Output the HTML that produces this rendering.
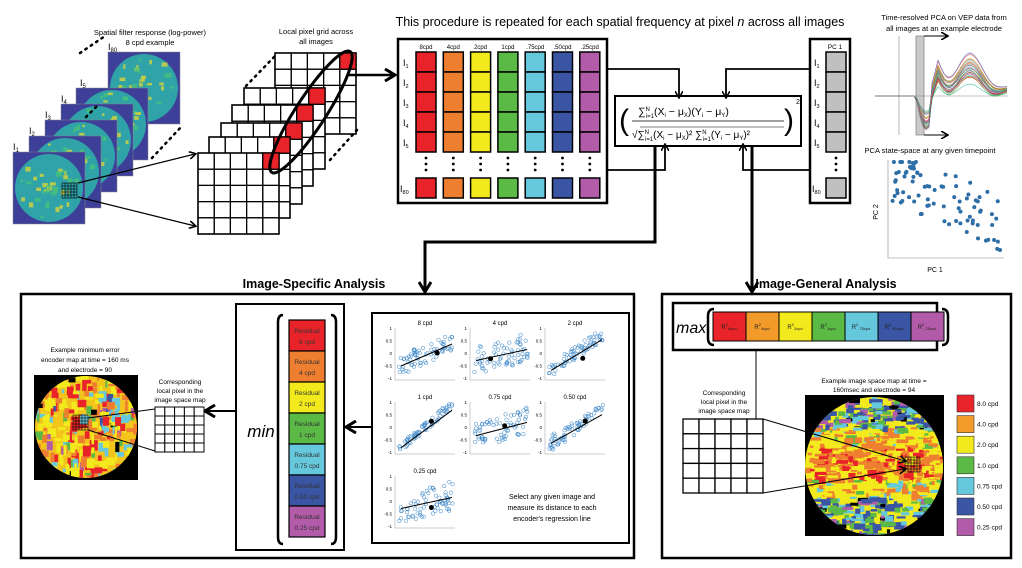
<!DOCTYPE html>
<html><head><meta charset="utf-8"><style>
html,body{margin:0;padding:0;background:#fff;width:1022px;height:568px;overflow:hidden}
svg text{font-family:"Liberation Sans",sans-serif}
</style></head><body>
<svg id="s" width="1022" height="568" viewBox="0 0 1022 568" xmlns="http://www.w3.org/2000/svg">
<defs>
<marker id="ah" markerWidth="8" markerHeight="8" refX="6" refY="4" orient="auto" markerUnits="userSpaceOnUse"><path d="M0,0 L7,4 L0,8" fill="none" stroke="#000" stroke-width="1.6"/></marker>
<marker id="ahb" markerWidth="14" markerHeight="14" refX="10" refY="7" orient="auto" markerUnits="userSpaceOnUse"><path d="M1,1 L11,7 L1,13" fill="none" stroke="#000" stroke-width="3"/></marker>
</defs>

<text x="620" y="26" font-size="12.5" text-anchor="middle">This procedure is repeated for each spatial frequency at pixel <tspan font-style="italic">n</tspan> across all images</text>

<text x="150" y="35" font-size="7.5" text-anchor="middle">Spatial filter response (log-power)</text>
<text x="150" y="45" font-size="7.5" text-anchor="middle">8 cpd example</text>
<g id="stack"></g>
<g font-family="Liberation Serif" font-size="9">
<text x="108" y="50" font-family="Liberation Serif">I<tspan font-size="6" dy="2">80</tspan></text>
<text x="80" y="86" font-family="Liberation Serif">I<tspan font-size="6" dy="2">5</tspan></text>
<text x="61" y="102" font-family="Liberation Serif">I<tspan font-size="6" dy="2">4</tspan></text>
<text x="45" y="118" font-family="Liberation Serif">I<tspan font-size="6" dy="2">3</tspan></text>
<text x="29" y="134" font-family="Liberation Serif">I<tspan font-size="6" dy="2">2</tspan></text>
<text x="13" y="150" font-family="Liberation Serif">I<tspan font-size="6" dy="2">1</tspan></text>
</g>
<path d="M86,117 L99,104 M80,53 L105,36 M152,158 L182,126" stroke="#000" stroke-width="2.5" stroke-dasharray="1.5 5" stroke-linecap="round" fill="none"/>
<line x1="78" y1="183" x2="195" y2="154" stroke="#000" stroke-width="1.2" marker-end="url(#ah)"/>
<line x1="78" y1="197" x2="195" y2="226" stroke="#000" stroke-width="1.2" marker-end="url(#ah)"/>

<text x="316" y="34" font-size="7.5" text-anchor="middle">Local pixel grid across</text>
<text x="316" y="44" font-size="7.5" text-anchor="middle">all images</text>
<g id="grids"></g>
<path d="M246,86 L275,56 M330,160 L357,130" stroke="#000" stroke-width="2.5" stroke-dasharray="1.5 5" stroke-linecap="round" fill="none"/>
<ellipse cx="311" cy="112" rx="72" ry="15" transform="rotate(-57 311 112)" fill="none" stroke="#000" stroke-width="3"/>
<line x1="349" y1="75" x2="394" y2="75" stroke="#000" stroke-width="2.5" marker-end="url(#ahb)"/>

<rect x="398" y="39" width="209" height="164" fill="#fff" stroke="#000" stroke-width="2.5"/>
<g id="matrix"></g>

<rect x="810" y="39" width="40" height="164" fill="#fff" stroke="#000" stroke-width="2.5"/>
<text x="835" y="49" font-size="6.5" text-anchor="middle">PC 1</text>
<g id="pc"></g>

<rect x="615" y="96" width="186" height="50" fill="#fff" stroke="#000" stroke-width="2"/>
<g font-family="Liberation Serif" font-size="10.5">
<text x="638" y="115" font-family="Liberation Serif">∑<tspan font-size="6" dy="-4">N</tspan><tspan font-size="6" dx="-4" dy="7">i=1</tspan><tspan dy="-3">(X</tspan><tspan font-size="6" dy="2">i</tspan><tspan dy="-2"> − μ</tspan><tspan font-size="6" dy="2">X</tspan><tspan dy="-2">)(Y</tspan><tspan font-size="6" dy="2">i</tspan><tspan dy="-2"> − μ</tspan><tspan font-size="6" dy="2">Y</tspan><tspan dy="-2">)</tspan></text>
<text x="632" y="138" font-family="Liberation Serif" font-size="10">√<tspan>∑</tspan><tspan font-size="6" dy="-4">N</tspan><tspan font-size="6" dx="-4" dy="7">i=1</tspan><tspan dy="-3">(X</tspan><tspan font-size="6" dy="2">i</tspan><tspan dy="-2"> − μ</tspan><tspan font-size="6" dy="2">X</tspan><tspan dy="-2">)² ∑</tspan><tspan font-size="6" dy="-4">N</tspan><tspan font-size="6" dx="-4" dy="7">i=1</tspan><tspan dy="-3">(Y</tspan><tspan font-size="6" dy="2">i</tspan><tspan dy="-2"> − μ</tspan><tspan font-size="6" dy="2">Y</tspan><tspan dy="-2">)²</tspan></text>
<text x="619" y="130" font-size="30" font-family="Liberation Serif">(</text>
<text x="784" y="130" font-size="30" font-family="Liberation Serif">)</text>
<text x="796" y="104" font-size="7" font-family="Liberation Serif">2</text>
</g>
<line x1="632" y1="121" x2="784" y2="121" stroke="#000" stroke-width="0.8"/>
<line x1="640" y1="127" x2="784" y2="127" stroke="#000" stroke-width="0.6"/>

<polyline points="607,69 679,69 679,97" fill="none" stroke="#000" stroke-width="1.8" marker-end="url(#ah)"/>
<polyline points="810,69 726,69 726,97" fill="none" stroke="#000" stroke-width="1.8" marker-end="url(#ah)"/>
<polyline points="607,170 665,170 665,145" fill="none" stroke="#000" stroke-width="1.8" marker-end="url(#ah)"/>
<polyline points="810,170 743,170 743,145" fill="none" stroke="#000" stroke-width="1.8" marker-end="url(#ah)"/>
<polyline points="655,146 655,242 425,242 425,291" fill="none" stroke="#000" stroke-width="3" marker-end="url(#ahb)"/>
<polyline points="752,146 752,291" fill="none" stroke="#000" stroke-width="3" marker-end="url(#ahb)"/>

<text x="944" y="20" font-size="7.5" text-anchor="middle">Time-resolved PCA on VEP data from</text>
<text x="944" y="31" font-size="7.5" text-anchor="middle">all images at an example electrode</text>
<g id="vep"></g>
<text x="930" y="153" font-size="7.5" text-anchor="middle">PCA state-space at any given timepoint</text>
<g id="pcs"></g>
<text x="935" y="272" font-size="7" text-anchor="middle">PC 1</text>
<text x="878" y="212" font-size="7" text-anchor="middle" transform="rotate(-90 878 212)">PC 2</text>

<text x="314" y="288" font-size="12.5" font-weight="bold" text-anchor="middle">Image-Specific Analysis</text>
<text x="826" y="288" font-size="12.5" font-weight="bold" text-anchor="middle">Image-General Analysis</text>

<rect x="21" y="294" width="613" height="264" fill="#fff" stroke="#000" stroke-width="2.5"/>
<rect x="236" y="304" width="108" height="246" fill="#fff" stroke="#000" stroke-width="2"/>
<text x="261" y="437" font-size="17" font-style="italic" text-anchor="middle">min</text>
<path d="M283,315 Q278,315 278,322 L278,537 Q278,544 283,544" fill="none" stroke="#000" stroke-width="2.5"/>
<path d="M331,315 Q336,315 336,322 L336,537 Q336,544 331,544" fill="none" stroke="#000" stroke-width="2.5"/>
<g id="resid"></g>
<rect x="372" y="313" width="257" height="230" fill="#fff" stroke="#000" stroke-width="2"/>
<g id="scat"></g>
<text x="552" y="499" font-size="7" text-anchor="middle">Select any given image and</text>
<text x="552" y="510" font-size="7" text-anchor="middle">measure its distance to each</text>
<text x="552" y="521" font-size="7" text-anchor="middle">encoder's regression line</text>
<line x1="372" y1="427" x2="347" y2="427" stroke="#000" stroke-width="2" marker-end="url(#ahb)"/>
<line x1="236" y1="411" x2="206" y2="411" stroke="#000" stroke-width="2" marker-end="url(#ahb)"/>
<text x="180" y="384" font-size="6.5" text-anchor="middle">Corresponding</text>
<text x="180" y="393" font-size="6.5" text-anchor="middle">local pixel in the</text>
<text x="180" y="402" font-size="6.5" text-anchor="middle">image space map</text>
<g id="sgrid"></g>
<text x="85" y="352" font-size="6.5" text-anchor="middle">Example minimum error</text>
<text x="85" y="362" font-size="6.5" text-anchor="middle">encoder map at time = 160 ms</text>
<text x="85" y="372" font-size="6.5" text-anchor="middle">and electrode = 90</text>
<rect x="34" y="375" width="104" height="105" fill="#000"/>
<g id="mapL"></g>
<line x1="155" y1="409" x2="88" y2="418" stroke="#000" stroke-width="1"/>
<line x1="155" y1="451" x2="88" y2="430" stroke="#000" stroke-width="1"/>

<rect x="662" y="294" width="349" height="264" fill="#fff" stroke="#000" stroke-width="2.5"/>
<rect x="673" y="303" width="264" height="47" fill="#fff" stroke="#000" stroke-width="2.5"/>
<text x="676" y="333" font-size="16" font-style="italic">max</text>
<path d="M714,309 Q708,309 708,316 L708,338 Q708,345 714,345" fill="none" stroke="#000" stroke-width="2.5"/>
<path d="M942,309 Q948,309 948,316 L948,338 Q948,345 942,345" fill="none" stroke="#000" stroke-width="2.5"/>
<g id="maxc"></g>
<line x1="756" y1="350" x2="756" y2="430" stroke="#000" stroke-width="1" marker-end="url(#ah)"/>
<text x="724" y="395" font-size="6.5" text-anchor="middle">Corresponding</text>
<text x="724" y="404" font-size="6.5" text-anchor="middle">local pixel in the</text>
<text x="724" y="413" font-size="6.5" text-anchor="middle">image space map</text>
<g id="rgrid"></g>
<text x="874" y="383" font-size="6.5" text-anchor="middle">Example image space map at time =</text>
<text x="874" y="392" font-size="6.5" text-anchor="middle">160msec and electrode = 94</text>
<rect x="805" y="395" width="139" height="141" fill="#000"/>
<g id="mapR"></g>
<line x1="763" y1="419" x2="905" y2="461" stroke="#000" stroke-width="1" marker-end="url(#ah)"/>
<line x1="763" y1="493" x2="905" y2="469" stroke="#000" stroke-width="1" marker-end="url(#ah)"/>
<g id="legend"></g>
</svg>
<script>
const NS="http://www.w3.org/2000/svg";
function el(p,t,a){const e=document.createElementNS(NS,t);for(const k in a)e.setAttribute(k,a[k]);p.appendChild(e);return e;}
const G=id=>document.getElementById(id);
let seed=7;function R(){seed=(seed*16807)%2147483647;return seed/2147483647;}
const COLS=["#e8242a","#ef7f30","#f2ea1c","#5bb946","#66c8dc","#3a55a4","#b25ba8"];
const st=G("stack");
const pos=[[108,52],[76,88],[61,104],[45,120],[29,136],[13,152]];
pos.forEach((p,i)=>{const w=72;el(st,"rect",{x:p[0],y:p[1],width:w,height:w,fill:"#3d3f99",stroke:"#888","stroke-width":0.5});
 el(st,"circle",{cx:p[0]+w/2,cy:p[1]+w/2,r:w/2-2,fill:"#2fa3a8"});
 for(let k=0;k<40;k++){const a=R()*6.28,r=R()*(w/2-5);el(st,"rect",{x:p[0]+w/2+Math.cos(a)*r-2,y:p[1]+w/2+Math.sin(a)*r-2,width:2+R()*4,height:2+R()*3,fill:R()<0.5?"#d8d23a":"#47c07a",opacity:0.8});}
});
const gI=el(st,"g",{});
for(let i=0;i<=5;i++){el(gI,"line",{x1:62+i*3,y1:183,x2:62+i*3,y2:198,stroke:"#000","stroke-width":0.6});el(gI,"line",{x1:62,y1:183+i*3,x2:77,y2:183+i*3,stroke:"#000","stroke-width":0.6});}
const gr=G("grids");
const gp=[[275,53],[244,88],[232,105],[221,123],[209,137],[198,153]];
gp.forEach((p,i)=>{const c=16.2;el(gr,"rect",{x:p[0],y:p[1],width:c*5,height:c*5,fill:"#fff",stroke:"#000","stroke-width":1.5});
 for(let r=0;r<5;r++)for(let q=0;q<5;q++)el(gr,"rect",{x:p[0]+q*c,y:p[1]+r*c,width:c,height:c,fill:"none",stroke:"#000","stroke-width":1.2});
 el(gr,"rect",{x:p[0]+4*c,y:p[1],width:c,height:c,fill:"#e8242a",stroke:"#000","stroke-width":1.2});
});
const m=G("matrix");const lab=["8cpd","4cpd","2cpd","1cpd",".75cpd",".50cpd",".25cpd"];
for(let c=0;c<7;c++){const x=416+c*27.3;el(m,"text",{x:x+10,y:49,"font-size":6,"text-anchor":"middle"}).textContent=lab[c];
 for(let r=0;r<5;r++)el(m,"rect",{x:x,y:52+r*20,width:20,height:20,fill:COLS[c],stroke:"#000","stroke-width":1.5});
 for(let d=0;d<3;d++)el(m,"circle",{cx:x+10,cy:158+d*6,r:1.4,fill:"#000"});
 el(m,"rect",{x:x,y:178,width:20,height:20,fill:COLS[c],stroke:"#000","stroke-width":1.5});}
["1","2","3","4","5"].forEach((s,r)=>{const t=el(m,"text",{x:403,y:66+r*20,"font-size":9,"font-family":"Liberation Serif"});t.innerHTML='I<tspan font-size="5.5" dy="2">'+s+'</tspan>';});
{const t=el(m,"text",{x:400,y:192,"font-size":9,"font-family":"Liberation Serif"});t.innerHTML='I<tspan font-size="5.5" dy="2">80</tspan>';}
const pc=G("pc");
for(let r=0;r<5;r++){el(pc,"rect",{x:826,y:52+r*20,width:20,height:20,fill:"#c0c0c0",stroke:"#000","stroke-width":1.5});const t=el(pc,"text",{x:814,y:66+r*20,"font-size":9,"font-family":"Liberation Serif"});t.innerHTML='I<tspan font-size="5.5" dy="2">'+(r+1)+'</tspan>';}
for(let d=0;d<3;d++)el(pc,"circle",{cx:836,cy:158+d*6,r:1.4,fill:"#000"});
el(pc,"rect",{x:826,y:178,width:20,height:20,fill:"#c0c0c0",stroke:"#000","stroke-width":1.5});
{const t=el(pc,"text",{x:812,y:192,"font-size":9,"font-family":"Liberation Serif"});t.innerHTML='I<tspan font-size="5.5" dy="2">80</tspan>';}
const v=G("vep");
el(v,"line",{x1:899,y1:36,x2:899,y2:135,stroke:"#888","stroke-width":0.6});
el(v,"line",{x1:875,y1:96,x2:1008,y2:96,stroke:"#888","stroke-width":0.6});
const vc=["#e41a1c","#377eb8","#4daf4a","#984ea3","#ff7f00","#a6d854","#1b9e77","#d95f02","#7570b3","#66a61e","#e7298a","#17becf"];
for(let k=0;k<40;k++){let d="";const a=0.6+R()*0.8,o=R()*14-7;for(let x=875;x<=1008;x+=3){let y=96;const t=x-916;if(t>0){y=96-a*(Math.sin(t/7)*(t<22?-30:20)*Math.exp(-t/60))-(t>15?a*(20+o)*Math.exp(-Math.pow((t-18)/30,2))+a*(14+o)*Math.exp(-Math.pow((t-62)/25,2)):0);}d+=(d?"L":"M")+x+","+y.toFixed(1);}el(v,"path",{d:d,fill:"none",stroke:vc[k%12],"stroke-width":0.5,opacity:0.8});}
el(v,"rect",{x:916,y:36,width:8,height:99,fill:"#888",opacity:0.45,stroke:"#000","stroke-width":0.8});
el(v,"line",{x1:924,y1:36,x2:947,y2:36,stroke:"#000","stroke-width":1,"marker-end":"url(#ah)"});
el(v,"line",{x1:924,y1:135,x2:947,y2:135,stroke:"#000","stroke-width":1,"marker-end":"url(#ah)"});
const ps=G("pcs");
el(ps,"polyline",{points:"888,160 888,258 1004,258",fill:"none",stroke:"#888","stroke-width":0.6});
for(let k=0;k<85;k++){const x=892+R()*108;const y=175+(x-892)*0.45+ (R()-0.5)*55;el(ps,"circle",{cx:x,cy:Math.min(250,Math.max(162,y)),r:2,fill:"#2e6ea6"});}
const rs=G("resid");const rl=["8 cpd","4 cpd","2 cpd","1 cpd","0.75 cpd","0.50 cpd","0.25 cpd"];
for(let i=0;i<7;i++){const y=320+i*31;el(rs,"rect",{x:289,y:y,width:36,height:31,fill:COLS[i],stroke:"#000","stroke-width":1.2});
 el(rs,"text",{x:307,y:y+13,"font-size":6.5,"text-anchor":"middle",fill:"#333"}).textContent="Residual";
 el(rs,"text",{x:307,y:y+24,"font-size":6.5,"text-anchor":"middle",fill:"#333"}).textContent=rl[i];}
const sc=G("scat");const tl=["8 cpd","4 cpd","2 cpd","1 cpd","0.75 cpd","0.50 cpd","0.25 cpd"];
const sl=[0.5,0.25,0.7,0.85,0.3,0.65,0.25];
for(let i=0;i<7;i++){const cx=395+(i%3)*75,cy=325+Math.floor(i/3)*74;const w=60,h=55;
 el(sc,"text",{x:cx+w/2,y:cy,"font-size":6,"text-anchor":"middle"}).textContent=tl[i];
 el(sc,"polyline",{points:`${cx},${cy+3} ${cx},${cy+h} ${cx+w},${cy+h}`,fill:"none",stroke:"#999","stroke-width":0.5});
 ["1","0.5","0","-0.5","-1"].forEach((s,j)=>el(sc,"text",{x:cx-3,y:cy+5+j*12.5,"font-size":4.5,"text-anchor":"end"}).textContent=s);
 for(let k=0;k<70;k++){const px=cx+4+R()*54;const base=cy+30-(px-cx-28)*sl[i];el(sc,"circle",{cx:px,cy:Math.max(cy+4,Math.min(cy+h-3,base+(R()-0.5)*34*(1.1-sl[i]))),r:1.8,fill:"none",stroke:"#3a86c8","stroke-width":0.5});}
 el(sc,"line",{x1:cx+6,y1:cy+30+22*sl[i],x2:cx+w-3,y2:cy+30-22*sl[i],stroke:"#000","stroke-width":1});
 const dx=cx+20+R()*25;el(sc,"circle",{cx:dx,cy:cy+18+R()*20,r:2.5,fill:"#000"});}
const sg=G("sgrid");for(let r=0;r<5;r++)for(let q=0;q<5;q++)el(sg,"rect",{x:155+q*9.8,y:407+r*9,width:9.8,height:9,fill:"#fff",stroke:"#000","stroke-width":1});
const ml=G("mapL");const lc=["#f2ea1c","#ef7f30","#e8242a","#66c8dc","#5bb946","#b25ba8","#3a55a4","#000"];
const cl=el(ml,"clipPath",{id:"cl"});el(cl,"circle",{cx:86,cy:427,r:51});
const mg=el(ml,"g",{"clip-path":"url(#cl)"});el(mg,"rect",{x:34,y:375,width:104,height:105,fill:"#f2c41c"});
for(let k=0;k<350;k++)el(mg,"rect",{x:34+R()*100,y:375+R()*100,width:2+R()*7,height:2+R()*9,fill:lc[Math.floor(R()*R()*8)]});
for(let i=0;i<=5;i++){el(ml,"line",{x1:73+i*3,y1:415,x2:73+i*3,y2:430,stroke:"#000","stroke-width":0.6});el(ml,"line",{x1:73,y1:415+i*3,x2:88,y2:415+i*3,stroke:"#000","stroke-width":0.6});}
const mc=G("maxc");const ms=["8cpd","4cpd","2cpd","1cpd",".75cpd",".50cpd",".25cpd"];
for(let i=0;i<7;i++){const x=713+i*33;el(mc,"rect",{x:x,y:312,width:33,height:29,fill:i==1?"#f29a2a":COLS[i],stroke:"#000","stroke-width":1});
 const t=el(mc,"text",{x:x+16,y:329,"font-size":6,"text-anchor":"middle",fill:"#222"});t.innerHTML='R<tspan font-size="4" dy="-3">2</tspan><tspan font-size="4" dy="4">'+ms[i]+'</tspan>';}
const rg=G("rgrid");for(let r=0;r<5;r++)for(let q=0;q<5;q++)el(rg,"rect",{x:683+q*16,y:419+r*14.8,width:16,height:14.8,fill:"#fff",stroke:"#000","stroke-width":1.3});
const mr=G("mapR");const cr=el(mr,"clipPath",{id:"cr"});el(cr,"circle",{cx:874,cy:466,r:69});
const rgp=el(mr,"g",{"clip-path":"url(#cr)"});el(rgp,"rect",{x:805,y:395,width:139,height:141,fill:"#f2ea1c"});
for(let k=0;k<900;k++){const y=397+R()*138;const d=Math.abs(y-462)/70;let c;const q=R();
 if(d<0.25)c=q<0.55?"#ef7f30":q<0.8?"#e8242a":"#f2ea1c";else if(d<0.5)c=q<0.35?"#f2ea1c":q<0.55?"#5bb946":q<0.7?"#66c8dc":"#ef7f30";else c=q<0.35?"#3a55a4":q<0.6?"#5bb946":q<0.72?"#b25ba8":q<0.9?"#66c8dc":"#000";
 el(rgp,"rect",{x:805+R()*136,y:y,width:3+R()*9,height:2+R()*4,fill:c});}
for(let i=0;i<=5;i++){el(mr,"line",{x1:905+i*3,y1:457,x2:905+i*3,y2:472,stroke:"#000","stroke-width":0.6});el(mr,"line",{x1:905,y1:457+i*3,x2:920,y2:457+i*3,stroke:"#000","stroke-width":0.6});}
const lg=G("legend");const ll=["8.0 cpd","4.0 cpd","2.0 cpd","1.0 cpd","0.75 cpd","0.50 cpd","0.25 cpd"];
for(let i=0;i<7;i++){const y=395+i*20.6;el(lg,"rect",{x:957,y:y,width:17,height:17,fill:i==1?"#f29a2a":COLS[i],stroke:"#333","stroke-width":0.6});el(lg,"text",{x:977,y:y+11,"font-size":6.5}).textContent=ll[i];}
</script>
</body></html>
